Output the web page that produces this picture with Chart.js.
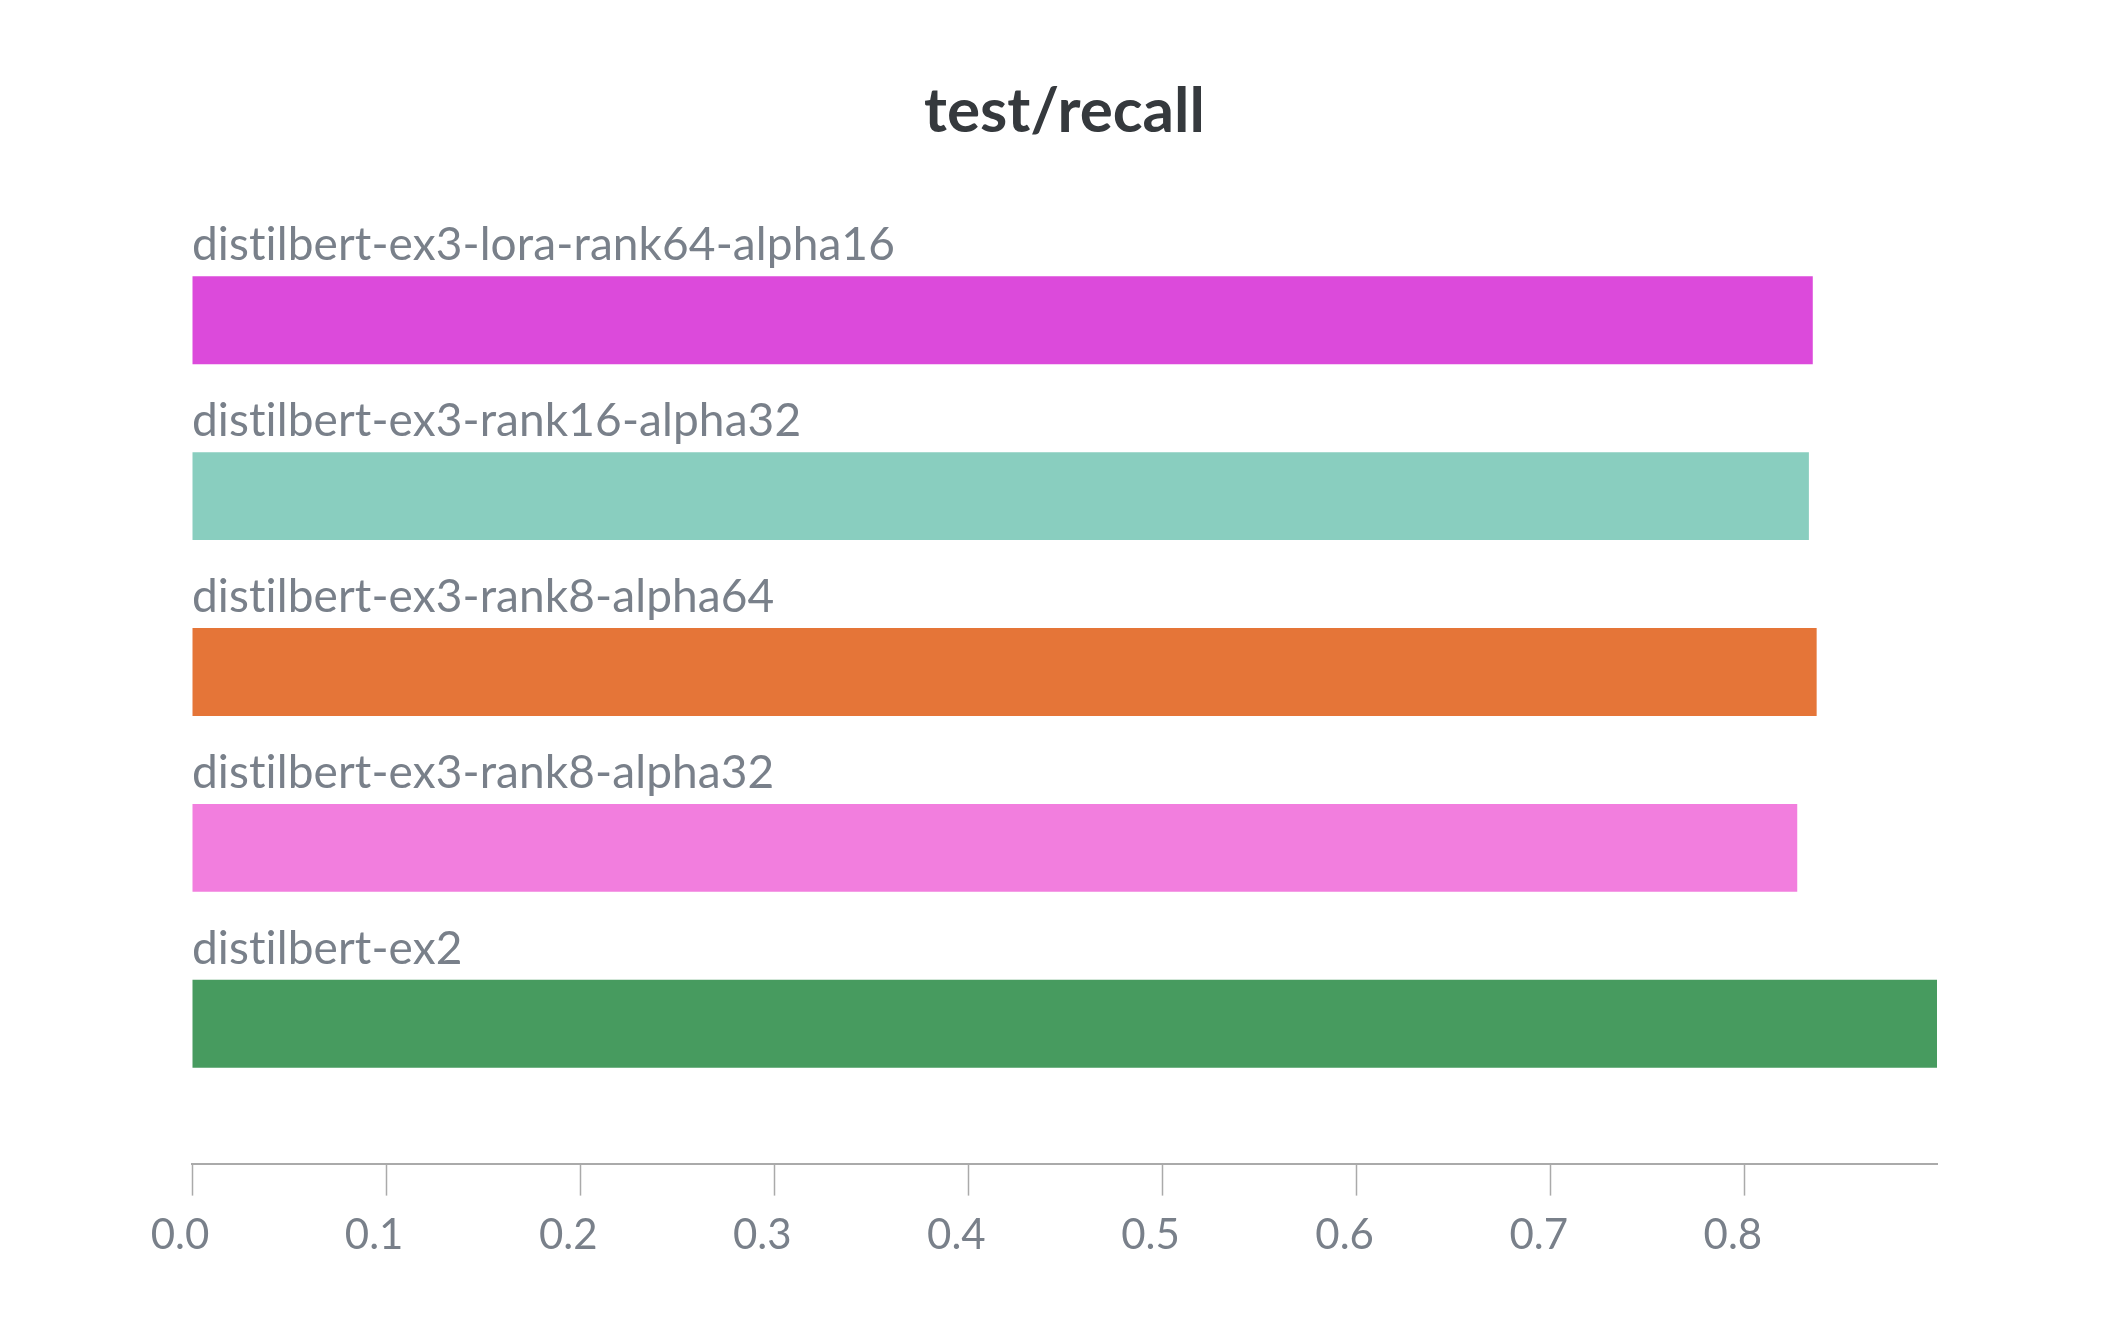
<!DOCTYPE html>
<html>
<head>
<meta charset="utf-8">
<script src="https://cdn.jsdelivr.net/npm/chart.js@4.4.1/dist/chart.umd.min.js"></script>
<style>
  html, body { margin: 0; padding: 0; background: #ffffff; }
  #wrap { width: 2128px; height: 1328px; position: relative; }
</style>
</head>
<body>
<div id="wrap"><canvas id="c"></canvas></div>
<script>
const chartTitle = "test/recall";
const categories = [
  "distilbert-ex3-lora-rank64-alpha16",
  "distilbert-ex3-rank16-alpha32",
  "distilbert-ex3-rank8-alpha64",
  "distilbert-ex3-rank8-alpha32",
  "distilbert-ex2"
];
const recall = [0.835, 0.833, 0.837, 0.827, 0.899];
const barColors = ["#dc4adb", "#89cebf", "#e57538", "#f27ede", "#479b5f"];

const FONT = "Lato, 'Noto Sans', sans-serif";
const LABEL_COLOR = "#79808a";
const AXIS_GAP = 52;

// leave an empty band between the last bar slot and the x axis line
const plotGap = {
  id: "plotGap",
  afterLayout(chart) {
    const ys = chart.scales.y;
    ys.bottom = chart.chartArea.bottom - AXIS_GAP;
    ys.height = ys.bottom - ys.top;
    ys.configure();
  }
};

// run names written above each bar
const runLabels = {
  id: "runLabels",
  afterDatasetsDraw(chart) {
    const ctx = chart.ctx;
    const meta = chart.getDatasetMeta(0);
    ctx.save();
    ctx.font = "46px " + FONT;
    if ("letterSpacing" in ctx) ctx.letterSpacing = "0.1px"; // avoid "ti" ligature
    ctx.fillStyle = LABEL_COLOR;
    ctx.textAlign = "left";
    ctx.textBaseline = "alphabetic";
    meta.data.forEach((bar, i) => {
      const top = bar.y - bar.height / 2;
      ctx.fillText(categories[i], chart.chartArea.left, top - 16);
    });
    ctx.restore();
  }
};

new Chart(document.getElementById("c"), {
  type: "bar",
  data: {
    labels: categories,
    datasets: [{
      data: recall,
      backgroundColor: barColors,
      borderWidth: 0,
      categoryPercentage: 1.0,
      barPercentage: 0.5
    }]
  },
  options: {
    indexAxis: "y",
    responsive: true,
    maintainAspectRatio: false,
    animation: false,
    layout: { padding: { left: 192, right: 191, top: 0, bottom: 52 } },
    plugins: {
      legend: { display: false },
      tooltip: { enabled: false },
      title: {
        display: true,
        text: chartTitle,
        color: "#35393d",
        font: { family: FONT, size: 62, weight: "bold" },
        padding: { top: 75, bottom: 83 }
      }
    },
    scales: {
      y: {
        type: "category",
        display: false
      },
      x: {
        type: "linear",
        min: 0,
        max: Math.max(...recall),
        grid: {
          display: true,
          drawOnChartArea: false,
          drawTicks: true,
          tickLength: 32,
          tickWidth: 1.5,
          tickColor: "#aaaaaa"
        },
        border: { display: true, color: "#aaaaaa", width: 2 },
        ticks: {
          stepSize: 0.1,
          includeBounds: false,
          padding: 15,
          labelOffset: -12,
          color: LABEL_COLOR,
          font: { family: FONT, size: 42 },
          callback: (v) => Number(v).toFixed(1)
        }
      }
    }
  },
  plugins: [plotGap, runLabels]
});
</script>
</body>
</html>
